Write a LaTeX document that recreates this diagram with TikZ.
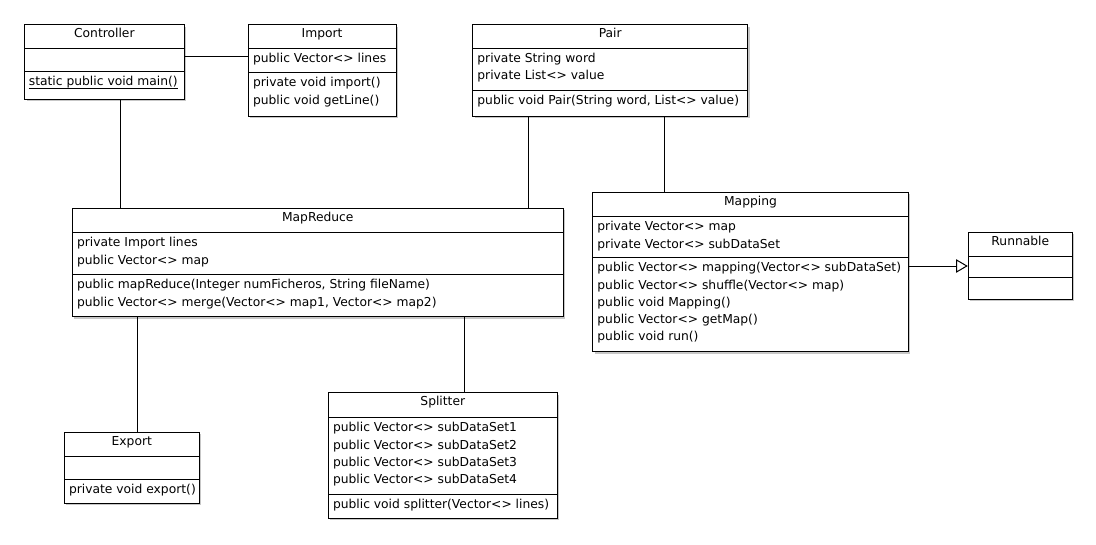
\documentclass[tikz,border=0pt]{standalone}
\usepackage{fontspec}
\setmainfont{DejaVu Sans}
\usetikzlibrary{fit,arrows.meta}
\tikzset{
  umlbox/.style={draw, line width=1pt, inner sep=0pt, fill=white},
  shadowbox/.style={fill=black!22},
  txt/.style={anchor=base west, inner sep=0pt, font=\fontsize{12.3}{14}\selectfont},
  ttl/.style={anchor=base, inner sep=0pt, font=\fontsize{12.3}{14}\selectfont},
  rel/.style={line width=1pt},
}
% name, left, top, right, bottom, divider1, divider2, title
\newcommand\umlclass[8]{%
  \fill[shadowbox] (#2+2,#3+2) rectangle (#4+2,#5+2);
  \node[umlbox, fit={(#2,#3) (#4,#5)}] (#1) {};
  \draw[line width=1pt] (#2,#6) -- (#4,#6) (#2,#7) -- (#4,#7);
  \node[ttl] (#1-title) at ({(#2+#4)/2},#3+13) {#8};
}
% name prefix, left, divider y, list of lines
\newcommand\umllines[4]{%
  \foreach \s [count=\i from 0] in {#4}
    \node[txt] (#1-\i) at (#2+4.5, #3+14+17.3*\i) {\s};
}
\begin{document}
\begin{tikzpicture}[x=1pt,y=-1pt]
\useasboundingbox[fill=white] (0,0) rectangle (1096,544);

% Controller
\umlclass{ctrl}{24.7}{24.7}{184}{99}{48.3}{71.7}{Controller}
\umllines{ctrlm}{24.2}{71.7}{{static public void main()}}
\draw[line width=0.9pt] ([yshift=-2.8pt]ctrlm-0.base west) -- ([yshift=-2.8pt]ctrlm-0.base east);

% Import
\umlclass{imp}{248.3}{24.7}{396}{116}{48.3}{72.7}{Import}
\umllines{impa}{248.3}{48.3}{{public Vector<> lines}}
\umllines{impm}{248.3}{72.7}{{private void import()},{public void getLine()}}

% Pair
\umlclass{pair}{472.7}{24.7}{747.7}{116}{48.3}{90}{Pair}
\umllines{paira}{472.7}{48.3}{{private String word},{private List<> value}}
\umllines{pairm}{472.7}{90}{{public void Pair(String word, List<> value)}}

% MapReduce
\umlclass{mr}{72.3}{208.3}{563.3}{316.7}{232.7}{274.7}{MapReduce}
\umllines{mra}{72.3}{232.7}{{private Import lines},{public Vector<> map}}
\umllines{mrm}{72.3}{274.7}{{public mapReduce(Integer numFicheros, String fileName)},{public Vector<> merge(Vector<> map1, Vector<> map2)}}

% Mapping
\umlclass{map}{592.7}{192.3}{908.3}{351.7}{216.7}{257.7}{Mapping}
\umllines{mapa}{592.7}{216.7}{{private Vector<> map},{private Vector<> subDataSet}}
\umllines{mapm}{592.7}{257.7}{{public Vector<> mapping(Vector<> subDataSet)},{public Vector<> shuffle(Vector<> map)},{public void Mapping()},{public Vector<> getMap()},{public void run()}}

% Runnable
\umlclass{run}{968.3}{232.3}{1072.3}{299}{256}{277.3}{Runnable}

% Export
\umlclass{exp}{64.3}{432.3}{199.3}{503.3}{456.3}{479.3}{Export}
\umllines{expm}{64.3}{479.3}{{private void export()}}

% Splitter
\umlclass{spl}{328.3}{392.7}{557.3}{518}{417.7}{494.3}{Splitter}
\umllines{spla}{328.3}{417.7}{{public Vector<> subDataSet1},{public Vector<> subDataSet2},{public Vector<> subDataSet3},{public Vector<> subDataSet4}}
\umllines{splm}{328.3}{494.3}{{public void splitter(Vector<> lines)}}

% Connectors
\draw[rel] (ctrl.east |- 0,56.7) -- (imp.west |- 0,56.7);
\draw[rel] (ctrl.south -| 120.3,0) -- (mr.north -| 120.3,0);
\draw[rel] (pair.south -| 528.5,0) -- (mr.north -| 528.5,0);
\draw[rel] (pair.south -| 664.3,0) -- (map.north -| 664.3,0);
\draw[rel] (mr.south -| 137,0) -- (exp.north -| 137,0);
\draw[rel] (mr.south -| 464.3,0) -- (spl.north -| 464.3,0);
\draw[rel, -{Triangle[open, length=11.7pt, width=13.4pt, fill=white]}]
  (map.east |- 0,266) -- (run.west |- 0,266);
\end{tikzpicture}
\end{document}
